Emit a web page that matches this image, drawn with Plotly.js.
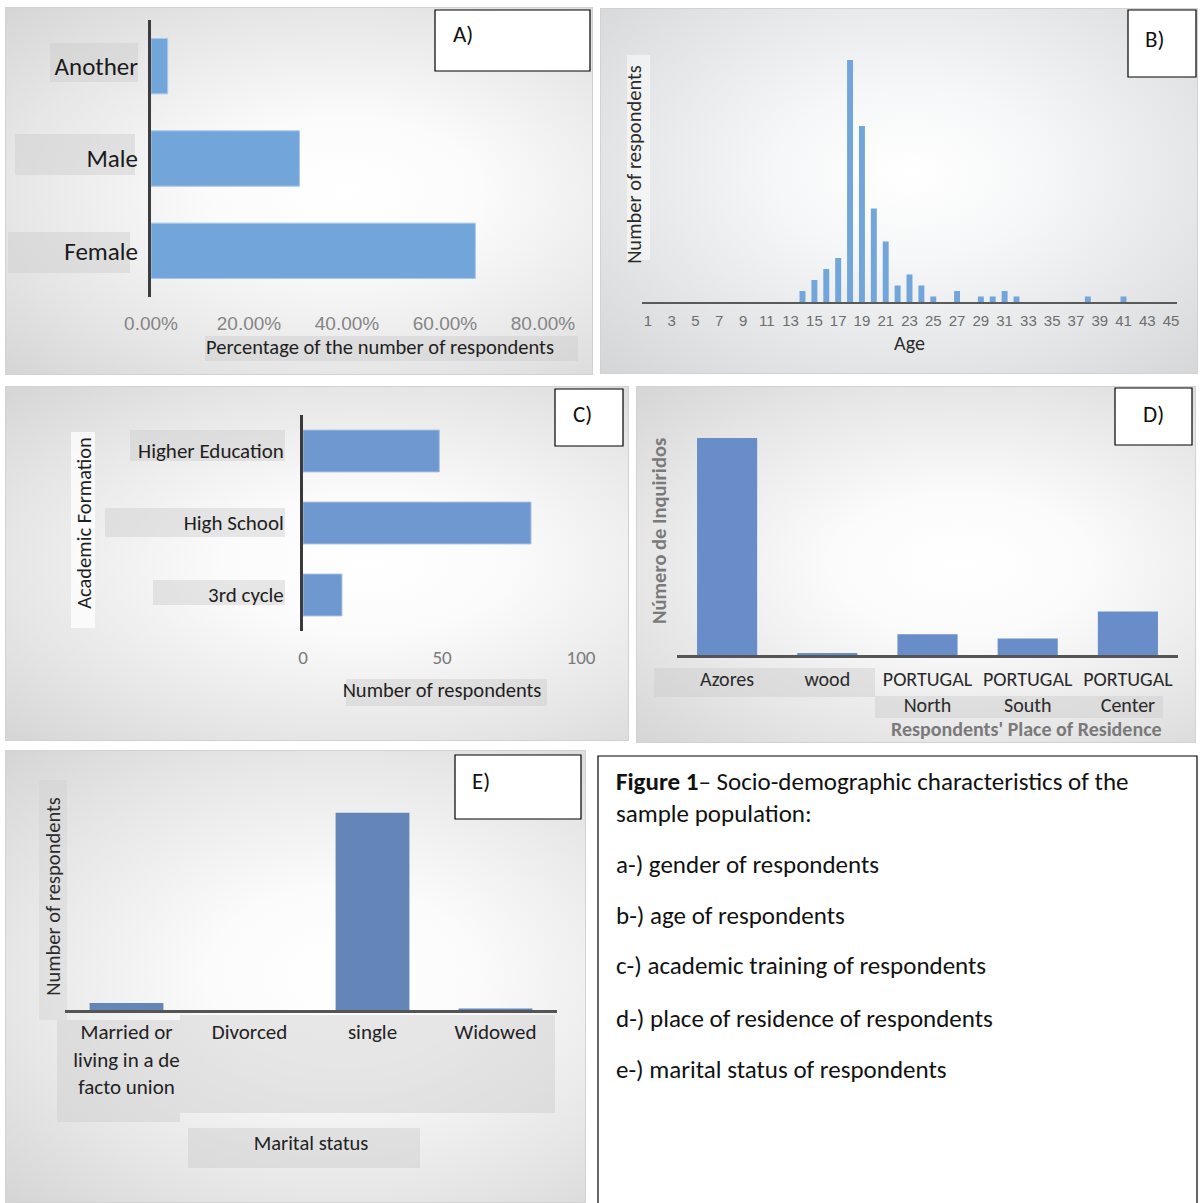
<!DOCTYPE html>
<html>
<head>
<meta charset="utf-8">
<script src="https://cdn.plot.ly/plotly-3.0.1.min.js"></script>
<style>
  html, body { margin: 0; padding: 0; background: #ffffff; }
  #wrap { position: relative; width: 1201px; height: 1203px; overflow: hidden; }
  .panel { position: absolute; box-sizing: border-box; border: 1px solid #d2d2d2;
    background: radial-gradient(ellipse farthest-corner at 58% 50%, #ffffff 0%, #fbfbfb 28%, #e6e6e6 70%, #d5d5d5 100%); }
  #chart { position: absolute; left: 0; top: 0; width: 1201px; height: 1203px; }
</style>
</head>
<body>
<div id="wrap">
  <div class="panel" style="left:5px;top:7px;width:588px;height:368px;"></div>
  <div class="panel" style="left:600px;top:8px;width:598px;height:366px;background:radial-gradient(ellipse farthest-corner at 52% 45%, #ffffff 0%, #f6f7f8 30%, #e3e4e5 70%, #d4d5d6 100%);"></div>
  <div class="panel" style="left:5px;top:386px;width:624px;height:355px;"></div>
  <div class="panel" style="left:636px;top:386px;width:560px;height:357px;"></div>
  <div class="panel" style="left:5px;top:750px;width:581px;height:453px;"></div>
  <div id="chart"></div>
</div>
<script>
// ---------- DATA ----------
const genderCategories = ['Female', 'Male', 'Another'];
const genderShare = [0.662, 0.303, 0.034];

const ageValues = [1,2,3,4,5,6,7,8,9,10,11,12,13,14,15,16,17,18,19,20,21,22,23,24,25,26,27,28,29,30,31,32,33,34,35,36,37,38,39,40,41,42,43,44,45];
const ageCounts = [0,0,0,0,0,0,0,0,0,0,0,0,0,2,4,6,8,44,32,17,11,3,5,3,1,0,2,0,1,1,2,1,0,0,0,0,0,1,0,0,1,0,0,0,0];
const ageTickValues = [1,3,5,7,9,11,13,15,17,19,21,23,25,27,29,31,33,35,37,39,41,43,45];

const educationCategories = ['3rd cycle', 'High School', 'Higher Education'];
const educationCounts = [14, 82, 49];

const residenceCategories = ['Azores', 'wood', 'PORTUGAL North', 'PORTUGAL South', 'PORTUGAL Center'];
const residenceTickLabels = ['Azores', 'wood', 'PORTUGAL<br>North', 'PORTUGAL<br>South', 'PORTUGAL<br>Center'];
const residenceCounts = [105, 1, 10, 8, 21];

const maritalCategories = ['Married or living in a de facto union', 'Divorced', 'single', 'Widowed'];
const maritalTickLabels = ['Married or<br>living in a de<br>facto union', 'Divorced', 'single', 'Widowed'];
const maritalCounts = [5, 0, 139, 1];

const captionLines = [
  '<b>Figure 1</b>– Socio-demographic characteristics of the',
  'sample population:',
  'a-) gender of respondents',
  'b-) age of respondents',
  'c-) academic training of respondents',
  'd-) place of residence of respondents',
  'e-) marital status of respondents'
];

// ---------- HELPERS ----------
const W = 1201, H = 1203;
const px = x => x / W;
const py = y => 1 - y / H;
const CAL = 'Carlito, Lato, "Open Sans", sans-serif';
const ARI = '"Liberation Sans", Arial, sans-serif';

function box(x0, y0, x1, y1, fill, line) {
  return { type: 'rect', xref: 'paper', yref: 'paper', layer: 'below',
    x0: px(x0), x1: px(x1), y0: py(y1), y1: py(y0),
    fillcolor: fill, line: line ? { color: line, width: 1.2 } : { width: 0 } };
}
function topBox(x0, y0, x1, y1) {
  const s = box(x0, y0, x1, y1, '#ffffff', '#000000');
  s.layer = 'above';
  return s;
}
const labelBg = 'rgba(205,205,205,0.45)';

const base = { showgrid: false, zeroline: false, fixedrange: true };

// ---------- TRACES ----------
const traces = [
  { type: 'bar', orientation: 'h', y: genderCategories, x: genderShare, xaxis: 'x', yaxis: 'y',
    width: 0.6, marker: { color: '#72a5da', line: { color: '#a9c8ea', width: 1 } } },
  { type: 'bar', x: ageValues, y: ageCounts, xaxis: 'x2', yaxis: 'y2',
    width: 0.5, marker: { color: '#72a5da' } },
  { type: 'bar', orientation: 'h', y: educationCategories, x: educationCounts, xaxis: 'x3', yaxis: 'y3',
    width: 0.58, marker: { color: '#6f98d0', line: { color: '#9fbbe2', width: 1 } } },
  { type: 'bar', x: residenceCategories, y: residenceCounts, xaxis: 'x4', yaxis: 'y4',
    width: 0.6, marker: { color: '#688dc8' } },
  { type: 'bar', x: maritalCategories, y: maritalCounts, xaxis: 'x5', yaxis: 'y5',
    width: 0.6, marker: { color: '#6385b8' } }
];

// ---------- LAYOUT ----------
const layout = {
  width: W, height: H,
  margin: { l: 0, r: 0, t: 0, b: 0 },
  paper_bgcolor: 'rgba(0,0,0,0)', plot_bgcolor: 'rgba(0,0,0,0)',
  showlegend: false, bargap: 0.4,
  font: { family: CAL, color: '#222222' },

  // A
  xaxis: Object.assign({}, base, { domain: [px(151), px(609)], anchor: 'y', range: [0, 0.9347],
    tickvals: [0, 0.2, 0.4, 0.6, 0.8], tickformat: '.2%', ticks: '', showline: false,
    tickfont: { family: ARI, size: 19, color: '#858585' }, ticklabelstandoff: 13,
    title: { text: 'Percentage of the number of respondents', font: { family: CAL, size: 20.5, color: '#1e1e1e' }, standoff: 5 } }),
  yaxis: Object.assign({}, base, { domain: [py(297), py(20)], anchor: 'x', type: 'category',
    range: [-0.5, 2.5], showline: true, linecolor: '#3d3d3d', linewidth: 3, ticks: '',
    tickfont: { family: CAL, size: 25, color: '#1a1a1a' }, ticklabelstandoff: 5 }),

  // B
  xaxis2: Object.assign({}, base, { domain: [px(642), px(1177)], anchor: 'y2', range: [0.5, 45.5],
    tickvals: ageTickValues, ticks: '', showline: true, linecolor: '#5a5a5a', linewidth: 2,
    tickfont: { family: ARI, size: 15, color: '#6e6e6e' }, ticklabelstandoff: 4,
    title: { text: 'Age', font: { family: CAL, size: 20, color: '#2a2a2a' }, standoff: 8 } }),
  yaxis2: Object.assign({}, base, { domain: [py(302), py(27)], anchor: 'free', position: px(649), range: [0, 50],
    showticklabels: false, ticks: '', showline: false,
    title: { text: 'Number of respondents', font: { family: CAL, size: 20.5, color: '#2a2a2a' }, standoff: 0 } }),

  // C
  xaxis3: Object.assign({}, base, { domain: [px(303), px(581)], anchor: 'y3', range: [0, 100],
    tickvals: [0, 50, 100], ticks: '', showline: false,
    tickfont: { family: CAL, size: 19, color: '#7a7a7a' }, ticklabelstandoff: 13,
    title: { text: 'Number of respondents', font: { family: CAL, size: 20.5, color: '#1e1e1e' }, standoff: 14 } }),
  yaxis3: Object.assign({}, base, { domain: [py(631), py(415)], anchor: 'x3', type: 'category',
    range: [-0.5, 2.5], showline: true, linecolor: '#3a3a3a', linewidth: 3, ticks: '',
    tickfont: { family: CAL, size: 21, color: '#1e1e1e' }, ticklabelstandoff: 12,
    title: { text: 'Academic Formation', font: { family: CAL, size: 20.5, color: '#1e1e1e' }, standoff: 41 } }),

  // D
  xaxis4: Object.assign({}, base, { domain: [px(677), px(1178)], anchor: 'y4', type: 'category',
    range: [-0.5, 4.5], tickvals: residenceCategories, ticktext: residenceTickLabels, ticks: '',
    showline: true, linecolor: '#555555', linewidth: 3,
    tickfont: { family: CAL, size: 20, color: '#2a2a2a' }, ticklabelstandoff: 4 }),
  yaxis4: Object.assign({}, base, { domain: [py(655), py(407)], anchor: 'x4', range: [0, 120],
    showticklabels: false, ticks: '', showline: false,
    title: { text: '<b>Número de Inquiridos</b>', font: { family: CAL, size: 20.5, color: '#7a7a7a' }, standoff: 3 } }),

  // E
  xaxis5: Object.assign({}, base, { domain: [px(65), px(557)], anchor: 'y5', type: 'category',
    range: [-0.5, 3.5], tickvals: maritalCategories, ticktext: maritalTickLabels, ticks: '',
    showline: true, linecolor: '#555555', linewidth: 3,
    tickfont: { family: CAL, size: 21, color: '#222222' }, ticklabelstandoff: 1,
    title: { text: 'Marital status', font: { family: CAL, size: 20.5, color: '#222222' }, standoff: 37 } }),
  yaxis5: Object.assign({}, base, { domain: [py(1010), py(783)], anchor: 'free', position: px(68), range: [0, 160],
    showticklabels: false, ticks: '', showline: false,
    title: { text: 'Number of respondents', font: { family: CAL, size: 20.5, color: '#2a2a2a' }, standoff: 0 } }),

  shapes: [
    // A label backgrounds
    box(50, 43, 138, 82, labelBg), box(15, 134, 135, 175, labelBg), box(8, 232, 130, 273, labelBg),
    box(205, 336, 578, 361, labelBg),
    // B y title background
    box(627, 55, 650, 260, 'rgba(255,255,255,0.5)'),
    // C label backgrounds
    box(130, 430, 285, 461, labelBg), box(105, 508, 285, 537, labelBg), box(153, 580, 285, 605, labelBg),
    box(346, 679, 547, 706, labelBg), box(71, 432, 95, 628, 'rgba(255,255,255,0.75)'),
    // D label backgrounds
    box(654, 668, 875, 697, labelBg), box(875, 696, 1163, 718, labelBg),
    // E label backgrounds
    box(57, 1020, 180, 1122, labelBg), box(180, 1015, 555, 1113, labelBg),
    box(188, 1128, 420, 1168, labelBg), box(39, 780, 67, 1020, 'rgba(205,205,205,0.35)'),
    // panel tags
    topBox(435, 10, 590, 71), topBox(1128, 10, 1196, 77), topBox(555, 389, 623, 446),
    topBox(1115, 388, 1192, 445), topBox(455, 755, 581, 819),
    // caption frame
    box(598, 756, 1197, 1206, '#ffffff', '#000000')
  ],
  annotations: []
};

const tags = [['A)', 463, 34], ['B)', 1155, 39], ['C)', 582, 414], ['D)', 1153, 414], ['E)', 481, 781]];
tags.forEach(t => layout.annotations.push({ xref: 'paper', yref: 'paper', x: px(t[1]), y: py(t[2]),
  text: t[0], showarrow: false, xanchor: 'center', yanchor: 'middle', font: { family: CAL, size: 23, color: '#111' } }));

layout.annotations.push({ xref: 'paper', yref: 'paper', x: px(1026), y: py(729), text: "<b>Respondents' Place of Residence</b>",
  showarrow: false, xanchor: 'center', yanchor: 'middle', font: { family: CAL, size: 20, color: '#7a7a7a' } });

const captionY = [781, 813, 864, 915, 966, 1018, 1069];
captionLines.forEach((t, i) => layout.annotations.push({ xref: 'paper', yref: 'paper', x: px(614), y: py(captionY[i]),
  text: t, showarrow: false, xanchor: 'left', yanchor: 'middle', align: 'left',
  font: { family: CAL, size: 25, color: '#111' } }));

Plotly.newPlot('chart', traces, layout, { displayModeBar: false, staticPlot: true });
</script>
</body>
</html>
